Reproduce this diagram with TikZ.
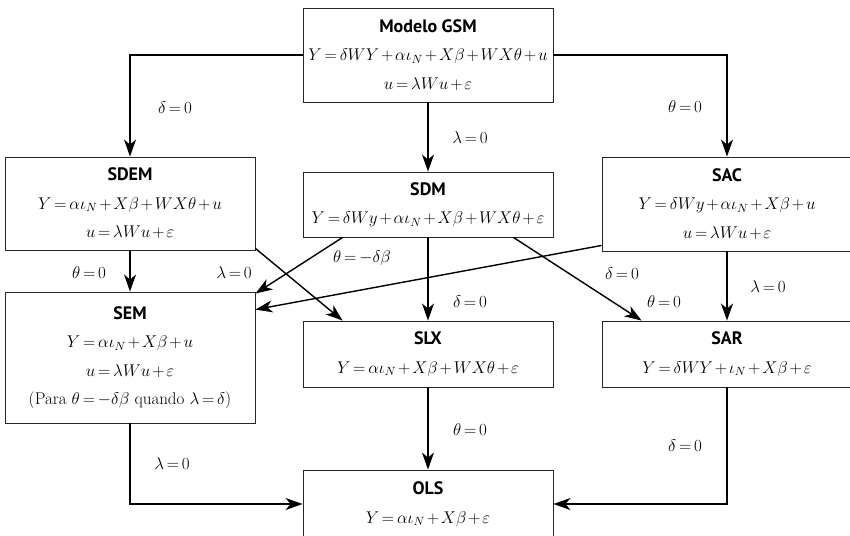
\RequirePackage{fix-cm}
\documentclass[tikz,border=0pt]{standalone}
\usepackage{fontspec}
\newfontfamily\ttlfont{PT Sans}
\usetikzlibrary{arrows.meta}
\newcommand{\ttl}[1]{{\ttlfont\bfseries\fontsize{18}{28}\selectfont #1}}
\AtBeginDocument{\thickmuskip=3mu\medmuskip=2mu}

\begin{document}
\begin{tikzpicture}[x=1pt, y=-1pt,
  font={\fontsize{17}{28.5}\selectfont},
  model/.style={draw=black!85, line width=0.9pt, minimum width=250pt, align=center, inner sep=0pt},
  flow/.style={-{Stealth[length=17pt,width=12pt,inset=5pt]}, line width=1.4pt},
  cond/.style={inner sep=0pt}
]
\clip (0,0) rectangle (850,535);
\node[model, minimum height=94pt] (gsm) at (428,55) {\ttl{Modelo GSM}\\
  $Y=\delta WY+\alpha\iota_N+X\beta+WX\theta+u$\\ $u=\lambda Wu+\varepsilon$};
\node[model, minimum height=93pt] (sdem) at (130,203.5) {\ttl{SDEM}\\
  $Y=\alpha\iota_N+X\beta+WX\theta+u$\\ $u=\lambda Wu+\varepsilon$};
\node[model, minimum height=65pt] (sdm) at (428,204.5) {\ttl{SDM}\\
  $Y=\delta Wy+\alpha\iota_N+X\beta+WX\theta+\varepsilon$};
\node[model, minimum height=94pt] (sac) at (727,204) {\ttl{SAC}\\
  $Y=\delta Wy+\alpha\iota_N+X\beta+u$\\ $u=\lambda Wu+\varepsilon$};
\node[model, minimum height=131pt] (sem) at (130,357.5) {\ttl{SEM}\\
  $Y=\alpha\iota_N+X\beta+u$\\ $u=\lambda Wu+\varepsilon$\\
  (Para $\theta=-\delta\beta$ quando $\lambda=\delta$)};
\node[model, minimum height=66pt] (slx) at (428,354) {\ttl{SLX}\\
  $Y=\alpha\iota_N+X\beta+WX\theta+\varepsilon$};
\node[model, minimum height=66pt] (sar) at (727,354) {\ttl{SAR}\\
  $Y=\delta WY+\iota_N+X\beta+\varepsilon$};
\node[model, minimum height=68pt] (ols) at (428,504) {\ttl{OLS}\\
  $Y=\alpha\iota_N+X\beta+\varepsilon$};

\draw[flow] (gsm.west) -| (sdem.north);
\draw[flow] (gsm.south) -- (sdm.north);
\draw[flow] (gsm.east) -| (sac.north);
\draw[flow] (sdem.south) -- (sem.north);
\draw[flow] ([yshift=2pt]sdem.south east) -- ([xshift=40pt]slx.north west);
\draw[flow] ([xshift=40pt]sdm.south west) -- ([yshift=-2pt]sem.north east);
\draw[flow] ([yshift=6pt]sac.south west) -- ([yshift=-18pt]sem.north east);
\draw[flow] (sdm.south) -- (slx.north);
\draw[flow] ([xshift=-40pt]sdm.south east) -- ([xshift=40pt]sar.north west);
\draw[flow] (sac.south) -- (sar.north);
\draw[flow] (slx.south) -- (ols.north);
\draw[flow] (sem.south) |- (ols.west);
\draw[flow] (sar.south) |- (ols.east);

\node[cond] (d1) at (175,108) {$\delta=0$};
\node[cond] (l1) at (470,138) {$\lambda=0$};
\node[cond] (t1) at (685,107) {$\theta=0$};
\node[cond] (t2) at (89,273) {$\theta=0$};
\node[cond] (l2) at (234,273) {$\lambda=0$};
\node[cond] (t3) at (362,258) {$\theta=-\delta\beta$};
\node[cond] (d2) at (470,302) {$\delta=0$};
\node[cond] (d3) at (622,274) {$\delta=0$};
\node[cond] (t4) at (664,302) {$\theta=0$};
\node[cond] (l3) at (768,287) {$\lambda=0$};
\node[cond] (t5) at (470,430) {$\theta=0$};
\node[cond] (l4) at (172,464) {$\lambda=0$};
\node[cond] (d4) at (685,446) {$\delta=0$};
\end{tikzpicture}
\end{document}
